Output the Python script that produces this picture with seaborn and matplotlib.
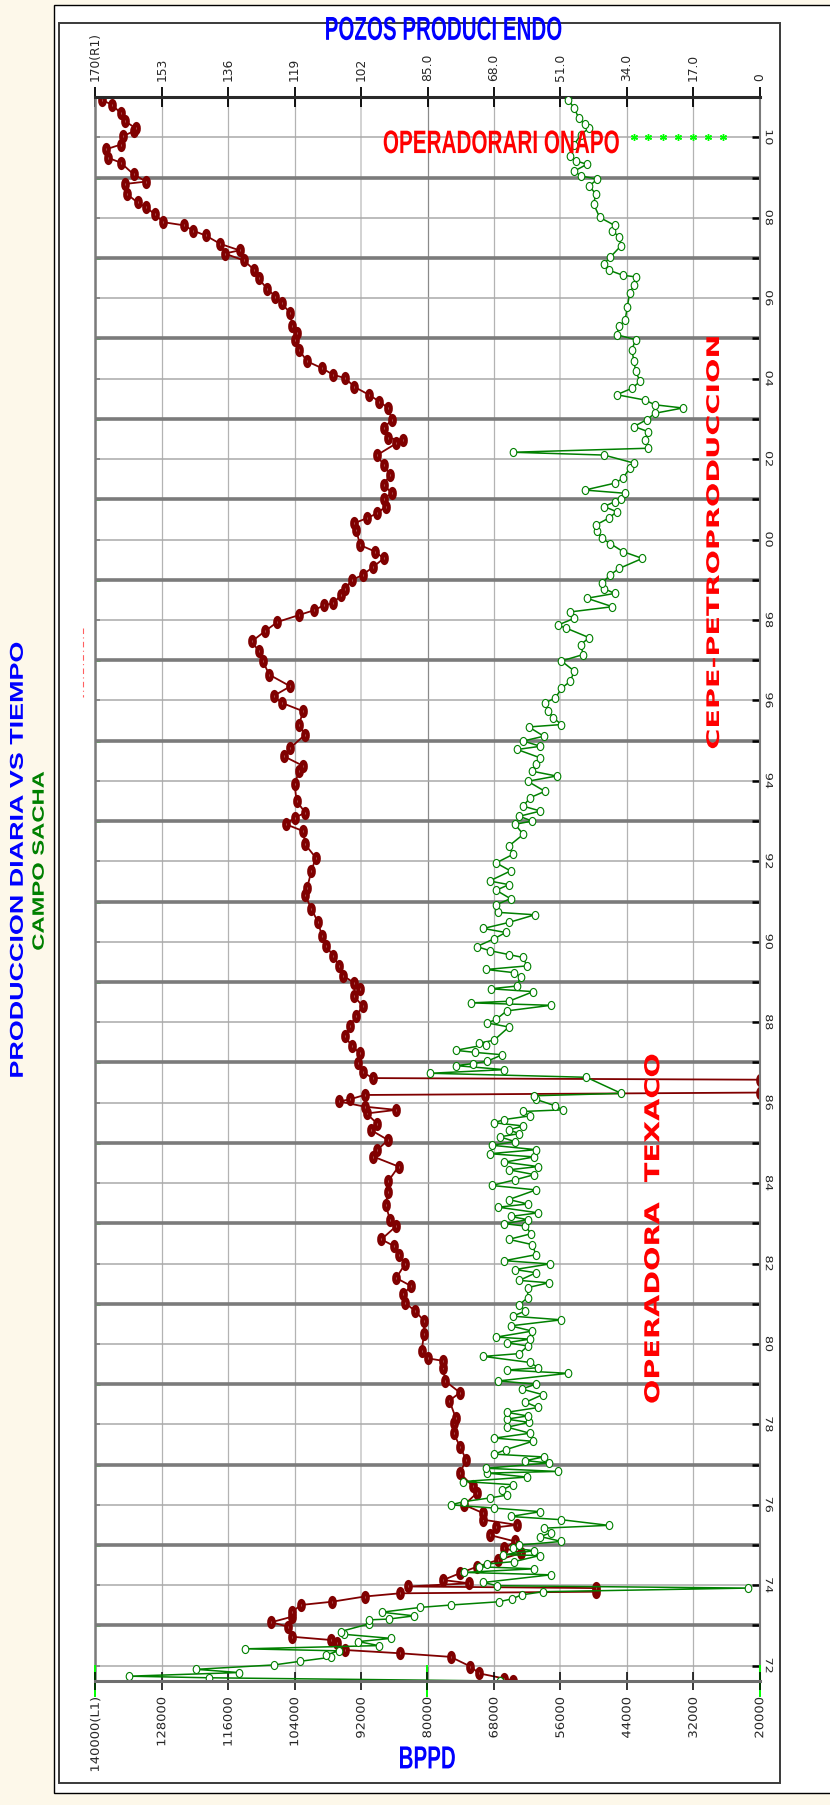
import matplotlib
matplotlib.use("Agg")
import matplotlib.pyplot as plt
import numpy as np
import pandas as pd
import seaborn as sns
from matplotlib.lines import Line2D
from matplotlib.patches import Rectangle
from matplotlib.path import Path
from matplotlib.patheffects import AbstractPathEffect
from matplotlib.transforms import Affine2D

# ---------------------------------------------------------------- data
# Daily oil production, Sacha field (barrels per day)
prod_year = [
    1971.62, 1971.70, 1971.74, 1971.83, 1971.91, 1972.02, 1972.11, 1972.21, 1972.27, 1972.37,
    1972.42, 1972.50, 1972.60, 1972.68, 1972.78, 1972.85, 1973.04, 1973.14, 1973.16, 1973.24,
    1973.33, 1973.45, 1973.51, 1973.59, 1973.66, 1973.76, 1973.84, 1973.93, 1973.99, 1974.07,
    1974.26, 1974.32, 1974.41, 1974.46, 1974.53, 1974.59, 1974.74, 1974.76, 1974.86, 1974.92,
    1975.00, 1975.09, 1975.21, 1975.31, 1975.42, 1975.49, 1975.63, 1975.71, 1975.83, 1975.92,
    1976.00, 1976.08, 1976.17, 1976.24, 1976.37, 1976.50, 1976.58, 1976.69, 1976.79, 1976.83,
    1976.91, 1977.04, 1977.10, 1977.19, 1977.26, 1977.37, 1977.58, 1977.66, 1977.78, 1977.93,
    1978.05, 1978.13, 1978.21, 1978.30, 1978.42, 1978.55, 1978.74, 1978.88, 1979.00, 1979.08,
    1979.27, 1979.35, 1979.41, 1979.54, 1979.69, 1979.76, 1979.95, 1980.03, 1980.12, 1980.17,
    1980.32, 1980.45, 1980.60, 1980.69, 1980.82, 1980.98, 1981.15, 1981.40, 1981.52, 1981.58,
    1981.77, 1981.85, 1981.99, 1982.07, 1982.22, 1982.47, 1982.60, 1982.74, 1982.93, 1982.99,
    1983.09, 1983.17, 1983.26, 1983.40, 1983.48, 1983.59, 1983.83, 1983.94, 1984.08, 1984.21,
    1984.33, 1984.41, 1984.52, 1984.65, 1984.73, 1984.83, 1984.94, 1985.03, 1985.15, 1985.23,
    1985.32, 1985.42, 1985.50, 1985.58, 1985.67, 1985.78, 1985.82, 1985.92, 1986.08, 1986.17,
    1986.23, 1986.63, 1986.73, 1986.82, 1986.92, 1986.97, 1987.03, 1987.19, 1987.25, 1987.30,
    1987.44, 1987.48, 1987.55, 1987.88, 1987.98, 1988.07, 1988.28, 1988.42, 1988.48, 1988.52,
    1988.76, 1988.83, 1988.90, 1989.13, 1989.23, 1989.31, 1989.40, 1989.61, 1989.68, 1989.78,
    1989.88, 1990.07, 1990.23, 1990.33, 1990.48, 1990.67, 1990.73, 1990.92, 1991.07, 1991.28,
    1991.42, 1991.51, 1991.76, 1991.96, 1992.17, 1992.38, 1992.67, 1992.92, 1993.00, 1993.12,
    1993.25, 1993.37, 1993.58, 1993.74, 1993.99, 1994.12, 1994.24, 1994.41, 1994.57, 1994.78,
    1994.86, 1994.99, 1995.11, 1995.34, 1995.40, 1995.57, 1995.73, 1995.94, 1996.06, 1996.30,
    1996.48, 1996.73, 1996.98, 1997.14, 1997.39, 1997.56, 1997.80, 1997.87, 1998.04, 1998.20,
    1998.33, 1998.54, 1998.66, 1998.78, 1998.91, 1999.12, 1999.28, 1999.53, 1999.70, 1999.90,
    2000.03, 2000.20, 2000.36, 2000.53, 2000.69, 2000.82, 2000.94, 2001.02, 2001.15, 2001.23,
    2001.40, 2001.52, 2001.77, 2001.90, 2002.10, 2002.17, 2002.27, 2002.48, 2002.68, 2002.81,
    2002.98, 2003.14, 2003.27, 2003.35, 2003.47, 2003.60, 2003.76, 2003.93, 2004.18, 2004.43,
    2004.72, 2004.97, 2005.09, 2005.30, 2005.46, 2005.79, 2006.12, 2006.33, 2006.53, 2006.57,
    2006.70, 2006.86, 2007.02, 2007.31, 2007.52, 2007.68, 2007.81, 2008.01, 2008.34, 2008.59,
    2008.79, 2008.96, 2009.04, 2009.16, 2009.33, 2009.41, 2009.53, 2009.82, 2010.07, 2010.23,
    2010.32, 2010.48, 2010.73, 2010.93,
]
prod_bppd = [
    66900, 119500, 133900, 114000, 121800, 107700, 103000, 97500, 98300, 96000,
    113000, 88800, 92500, 86600, 95000, 95700, 90600, 90600, 87000, 82400,
    88300, 81300, 75700, 67100, 64800, 63000, 59200, 22200, 67400, 69900,
    57700, 73400, 60700, 70700, 69200, 64300, 59700, 66300, 60700, 64600,
    63400, 55800, 59600, 57700, 59000, 47300, 55800, 65000, 59600, 68000,
    75800, 73400, 68800, 65700, 66500, 64600, 73500, 62000, 69200, 56500,
    69500, 58100, 62300, 59000, 67900, 65900, 61000, 67900, 61500, 65600,
    61700, 65700, 61900, 65700, 60000, 62300, 59200, 63000, 60400, 67200,
    54600, 65700, 60000, 61500, 69900, 63400, 61900, 65700, 61500, 67600,
    61100, 65000, 55800, 64600, 62300, 63400, 61900, 61900, 58100, 63400,
    60400, 64200, 57900, 66100, 60400, 61100, 65300, 61300, 62300, 66100,
    61900, 65000, 60000, 67200, 61900, 65300, 60400, 68400, 64200, 60700,
    65300, 60000, 66100, 60700, 68800, 60400, 68400, 64200, 66900, 63400,
    65300, 62700, 68000, 66100, 61500, 62800, 55600, 56900, 60400, 60700,
    45000, 51300, 79500, 66100, 74900, 71800, 69200, 66500, 71500, 74900,
    69500, 70700, 68000, 65300, 69200, 67600, 65700, 57700, 72200, 65300,
    60900, 68600, 63800, 63200, 64300, 69400, 62000, 62800, 65300, 68800,
    71100, 68000, 65900, 69900, 65300, 60600, 67200, 67600, 65000, 67600,
    65300, 68800, 65000, 67600, 64600, 65300, 62700, 64200, 61100, 63400,
    59600, 62700, 61500, 58800, 61900, 56700, 61100, 60400, 59600, 63800,
    59600, 62700, 59000, 61700, 55800, 57300, 58200, 58800, 56900, 55800,
    54200, 53500, 55800, 51900, 52300, 50800, 55000, 56500, 53500, 54200,
    46600, 51200, 46200, 48100, 48500, 47000, 45400, 41200, 44700, 47000,
    48500, 49300, 49600, 47300, 45800, 48100, 46200, 45000, 44300, 51600,
    46200, 44700, 43500, 42700, 48100, 64600, 40100, 40800, 40100, 42700,
    40400, 38900, 33900, 38900, 40800, 45800, 43100, 41600, 42400, 42700,
    43100, 42400, 45800, 45400, 44300, 43900, 43500, 42700, 42400, 44700,
    47300, 48100, 47000, 45000, 45400, 46600, 46200, 48900, 50000, 49600,
    50800, 49300, 52300, 53500, 51200, 53100, 54200, 53500, 52300, 50800,
    51600, 52700, 53500, 54600,
]

# Producing wells
well_year = [
    1971.63, 1971.68, 1971.81, 1971.98, 1972.22, 1972.31, 1972.39, 1972.56, 1972.64, 1972.72,
    1972.97, 1973.08, 1973.22, 1973.34, 1973.51, 1973.59, 1973.72, 1973.80, 1973.84, 1973.93,
    1973.97, 1974.05, 1974.13, 1974.30, 1974.46, 1974.63, 1974.80, 1974.92, 1975.09, 1975.25,
    1975.44, 1975.50, 1975.63, 1975.79, 1976.00, 1976.29, 1976.46, 1976.79, 1977.12, 1977.45,
    1977.78, 1978.03, 1978.17, 1978.59, 1978.79, 1979.08, 1979.41, 1979.58, 1979.64, 1979.83,
    1980.24, 1980.57, 1980.82, 1981.02, 1981.23, 1981.44, 1981.64, 1981.98, 1982.22, 1982.43,
    1982.60, 1982.93, 1983.09, 1983.46, 1983.79, 1984.04, 1984.41, 1984.66, 1984.82, 1985.07,
    1985.32, 1985.48, 1985.73, 1985.82, 1985.90, 1986.03, 1986.08, 1986.19, 1986.25, 1986.57,
    1986.61, 1986.75, 1986.98, 1987.23, 1987.40, 1987.65, 1987.90, 1988.15, 1988.40, 1988.65,
    1988.82, 1988.98, 1989.15, 1989.40, 1989.65, 1989.90, 1990.15, 1990.48, 1990.82, 1991.15,
    1991.34, 1991.76, 1992.09, 1992.42, 1992.75, 1992.92, 1993.08, 1993.21, 1993.50, 1993.91,
    1994.24, 1994.37, 1994.61, 1994.82, 1995.15, 1995.40, 1995.73, 1995.94, 1996.11, 1996.35,
    1996.64, 1996.97, 1997.22, 1997.47, 1997.72, 1997.95, 1998.12, 1998.24, 1998.37, 1998.41,
    1998.62, 1998.78, 1998.99, 1999.12, 1999.32, 1999.53, 1999.70, 1999.86, 2000.24, 2000.40,
    2000.53, 2000.65, 2000.82, 2001.02, 2001.15, 2001.36, 2001.61, 2001.85, 2002.10, 2002.39,
    2002.48, 2002.52, 2002.77, 2002.98, 2003.27, 2003.43, 2003.60, 2003.80, 2004.01, 2004.10,
    2004.26, 2004.43, 2004.72, 2004.97, 2005.13, 2005.30, 2005.63, 2005.87, 2006.04, 2006.24,
    2006.49, 2006.70, 2006.94, 2007.11, 2007.19, 2007.35, 2007.56, 2007.68, 2007.81, 2007.89,
    2008.09, 2008.26, 2008.38, 2008.59, 2008.84, 2008.90, 2009.08, 2009.37, 2009.49, 2009.70,
    2009.82, 2010.03, 2010.15, 2010.23, 2010.40, 2010.60, 2010.81, 2010.93,
]
well_count = [
    63.1, 65.3, 71.8, 74.0, 79.1, 92.1, 106.0, 108.2, 109.8, 119.6,
    120.6, 125.0, 119.6, 119.6, 117.4, 109.5, 101.1, 92.1, 42.0, 42.0,
    89.9, 74.3, 81.0, 76.7, 72.4, 66.9, 61.0, 65.3, 62.6, 69.1,
    67.5, 62.1, 70.7, 70.7, 75.6, 72.4, 73.4, 76.7, 75.1, 76.7,
    78.3, 78.3, 77.8, 79.4, 76.7, 80.5, 81.0, 81.0, 84.8, 86.5,
    85.9, 85.9, 88.1, 90.8, 91.3, 89.2, 93.0, 90.8, 92.4, 93.5,
    96.8, 93.0, 94.6, 95.7, 95.1, 95.1, 92.4, 98.9, 97.9, 95.1,
    99.5, 97.9, 100.6, 93.0, 101.1, 107.6, 104.9, 101.1, 0.0, 0.0,
    98.9, 101.6, 102.7, 102.2, 104.4, 106.0, 104.9, 103.3, 101.6, 103.8,
    102.2, 103.8, 106.5, 107.6, 109.2, 110.9, 112.0, 113.0, 114.7, 116.3,
    115.8, 114.7, 113.6, 116.3, 116.8, 121.2, 119.0, 116.3, 118.5, 119.0,
    117.9, 116.8, 121.7, 120.1, 116.3, 117.9, 116.8, 122.3, 124.4, 120.1,
    125.5, 127.1, 128.2, 129.9, 126.6, 123.4, 117.9, 114.1, 111.4, 109.2,
    107.1, 106.0, 104.4, 101.6, 98.9, 96.2, 98.4, 102.2, 103.3, 103.8,
    100.6, 97.9, 95.7, 96.2, 94.1, 96.2, 94.6, 96.2, 97.9, 93.0,
    91.3, 95.1, 96.2, 94.1, 95.1, 97.3, 100.0, 103.8, 106.0, 109.2,
    112.0, 115.8, 117.9, 119.0, 118.5, 119.6, 120.1, 122.3, 123.9, 126.1,
    128.2, 129.3, 132.0, 136.9, 133.1, 138.0, 141.8, 145.0, 147.2, 152.6,
    154.8, 157.0, 159.2, 161.9, 162.4, 157.0, 160.2, 163.5, 166.7, 167.3,
    163.5, 162.9, 160.2, 159.7, 162.4, 163.5, 165.7, 168.4,
]

# Row of star marks next to the Rio Napo label
star_bppd = [42700, 40100, 37400, 34700, 32000, 29300, 26700]
star_year = 2010.0

# Axis scales and labels
bppd_ticks = [140000, 128000, 116000, 104000, 92000, 80000, 68000, 56000, 44000, 32000, 20000]
bppd_labels = ["140000(L1)", "128000", "116000", "104000", "92000", "80000",
               "68000", "56000", "44000", "32000", "20000"]
bppd_marks = [140000, 80000, 20000]
well_ticks = [170, 153, 136, 119, 102, 85, 68, 51, 34, 17, 0]
well_labels = ["170(R1)", "153", "136", "119", "102", "85.0", "68.0", "51.0", "34.0", "17.0", "0"]
year_major = list(range(1972, 2011, 2))
year_minor = list(range(1973, 2010, 2))
year_labels = [f"{y % 100:02d}" for y in year_major]

assert len(prod_year) == len(prod_bppd)
assert len(well_year) == len(well_count)


# ---------------------------------------------------------------- helpers
class Stretch(AbstractPathEffect):
    """Scale text glyphs vertically (screen direction) about a chosen edge."""

    def __init__(self, factor=1.0, length=None, anchor="mid"):
        super().__init__()
        self.factor = factor
        self.length = length
        self.anchor = anchor

    def draw_path(self, renderer, gc, tpath, affine, rgbFace=None):
        box = tpath.get_extents(affine)
        k = self.factor
        if self.length is not None and box.height > 0:
            k = self.length / box.height
        if self.anchor == "low":
            y0 = box.y0
        elif self.anchor == "high":
            y0 = box.y1
        else:
            y0 = 0.5 * (box.y0 + box.y1)
        extra = Affine2D().translate(0, -y0).scale(1, k).translate(0, y0)
        renderer.draw_path(gc, tpath, affine + extra, rgbFace)


def ellipse(ratio):
    c = Path.unit_circle()
    return Path(c.vertices * np.array([ratio, 1.0]), c.codes)


# ---------------------------------------------------------------- figure
sns.set_style("white")
plt.rcParams["font.family"] = ["DejaVu Sans"]

W, H = 830, 1805
fig = plt.figure(figsize=(W / 100, H / 100), dpi=100, facecolor="#fdf8ea")


def fx(px):
    return px / W


def fy(py):
    return 1.0 - py / H


# page frames
fig.add_artist(Rectangle((fx(54), fy(1793)), fx(W), (1793 - 5) / H,
                         transform=fig.transFigure, facecolor="white",
                         edgecolor="black", lw=1.0, zorder=-2))
fig.add_artist(Rectangle((fx(58.5), fy(1783)), (780 - 58.5) / W, (1783 - 22.7) / H,
                         transform=fig.transFigure, facecolor="white",
                         edgecolor="#3a3a3a", lw=1.4, zorder=-1))
fig.add_artist(Line2D([fx(83), fx(83)], [fy(628), fy(697)], transform=fig.transFigure,
                      color="#ff6060", lw=0.8, linestyle=(0, (5, 3, 1, 3))))

L, R, T, B = 95.3, 759.7, 97.5, 1681.0
ax_w = fig.add_axes([fx(L), fy(B), (R - L) / W, (B - T) / H])
ax_w.set_facecolor("white")
ax_b = ax_w.twiny()

wells_df = pd.DataFrame({"year": well_year, "wells": well_count})
prod_df = pd.DataFrame({"year": prod_year, "bppd": prod_bppd})

sns.lineplot(data=wells_df, x="wells", y="year", ax=ax_w, sort=False, estimator=None,
             color="#800000", linewidth=1.3, marker=ellipse(0.5), markersize=6.5,
             markeredgewidth=3.0, markeredgecolor="#800000", markerfacecolor="white")
sns.lineplot(data=prod_df, x="bppd", y="year", ax=ax_b, sort=False, estimator=None,
             color="#008000", linewidth=1.1, marker=ellipse(0.82), markersize=5.8,
             markeredgewidth=0.8, markeredgecolor="#008000", markerfacecolor="white")
ax_b.plot(star_bppd, [star_year] * len(star_bppd), ls="none", marker=(6, 2, 0),
          ms=5, mew=1.0, mec="#00ff00", color="#00ff00")

for a in (ax_w, ax_b):
    a.set_xlabel("")
    a.set_ylabel("")

ax_w.set_xlim(170, 0)
ax_b.set_xlim(140000, 20000)
ax_w.set_ylim(1971.62, 2010.99)

# top axis: producing wells
ax_w.xaxis.tick_top()
ax_w.xaxis.set_label_position("top")
ax_w.set_xticks(well_ticks, labels=well_labels)
ax_w.tick_params(axis="x", which="major", top=True, bottom=False, labeltop=True,
                 labelbottom=False, direction="inout", length=13.7, width=1.3,
                 color="black", labelsize=8.8, labelrotation=90, pad=5.0)

# bottom axis: BPPD
ax_b.xaxis.tick_bottom()
ax_b.xaxis.set_label_position("bottom")
ax_b.set_xticks(bppd_ticks, labels=bppd_labels)
ax_b.tick_params(axis="x", which="major", top=False, bottom=True, labeltop=False,
                 labelbottom=True, direction="inout", length=12.5, width=1.1,
                 color="black", labelsize=8.4, labelrotation=90, pad=5.5)

# time axis (right)
ax_w.set_yticks(year_major, labels=year_labels)
ax_w.set_yticks(year_minor, minor=True)
ax_w.tick_params(axis="y", which="both", left=False, right=True, labelleft=False,
                 labelright=True, direction="in", length=6, width=1.8, color="black")
ax_w.tick_params(axis="y", which="major", labelsize=7, labelrotation=-90, pad=3)

# small marks on the left edge
sec_l = ax_w.secondary_yaxis("left")
sec_l.set_yticks(year_major)
sec_l.set_yticks(year_minor, minor=True)
sec_l.tick_params(which="both", direction="in", length=3.6, labelleft=False)
sec_l.tick_params(which="major", color="black", width=1.2)
sec_l.tick_params(which="minor", color="#00ff00", width=1.8)
for sp in sec_l.spines.values():
    sp.set_visible(False)

sec_b = ax_b.secondary_xaxis("bottom")
sec_b.set_xticks(bppd_marks)
sec_b.tick_params(direction="inout", length=23, width=1.4, color="#00ff00",
                  labelbottom=False)
for sp in sec_b.spines.values():
    sp.set_visible(False)

# grid
ax_w.grid(True, axis="y", which="major", color="#a9a9a9", linewidth=1.1)
ax_w.grid(True, axis="y", which="minor", color="#7b7b7b", linewidth=2.6)
ax_w.grid(True, axis="x", which="major", color="#b3b3b3", linewidth=0.9)
ax_b.grid(False)
xgl = ax_w.xaxis.get_gridlines()
xgl[5].set_color("#8a8a8a")
for i in (4, 7):
    xgl[i].set_color("#d2d2d2")
    xgl[i].set_linewidth(1.4)

# spines
ax_w.spines["top"].set_color("#2a2a2a")
ax_w.spines["top"].set_linewidth(2.2)
ax_w.spines["bottom"].set_visible(False)
ax_w.spines["left"].set_color("#7a7a7a")
ax_w.spines["left"].set_linewidth(1.8)
ax_w.spines["right"].set_color("#7a7a7a")
ax_w.spines["right"].set_linewidth(1.5)
for side in ("top", "left", "right"):
    ax_b.spines[side].set_visible(False)
ax_b.spines["bottom"].set_color("#6e6e6e")
ax_b.spines["bottom"].set_linewidth(2.2)

for lab in ax_w.get_yticklabels():
    lab.set_va("center")
    lab.set_path_effects([Stretch(1.3)])
for lab in ax_b.get_xticklabels():
    lab.set_path_effects([Stretch(1.12, anchor="high")])

# ---------------------------------------------------------------- texts
fig.text(fx(18.3), fy(860), "PRODUCCION DIARIA VS TIEMPO", rotation=90,
         ha="center", va="center", color="#0000ff", fontsize=13.4,
         fontfamily="Liberation Sans", fontweight="bold",
         path_effects=[Stretch(length=434)])
fig.text(fx(39.2), fy(861), "CAMPO SACHA", rotation=90, ha="center", va="center",
         color="#008000", fontsize=11.8, fontfamily="Liberation Sans",
         fontweight="bold", path_effects=[Stretch(length=178)])
fig.text(fx(443), fy(30), "POZOS PRODUCI ENDO", ha="center", va="center",
         color="#0000ff", fontsize=14.8, fontfamily="Liberation Sans",
         fontweight="bold", path_effects=[Stretch(length=23.5)])
fig.text(fx(427), fy(1759), "BPPD", ha="center", va="center", color="#0000ff",
         fontsize=14.8, fontfamily="Liberation Sans", fontweight="bold",
         path_effects=[Stretch(length=22)])
fig.text(fx(501), fy(143.5), "OPERADORARI ONAPO", ha="center", va="center",
         color="#ff0000", fontsize=14.9, fontfamily="Liberation Sans",
         fontweight="bold", path_effects=[Stretch(length=23)], zorder=5)
fig.text(fx(714), fy(542), "CEPE-PETROPRODUCCION", rotation=90, ha="center",
         va="center", color="#ff0000", fontsize=12.5, fontfamily="DejaVu Sans",
         fontweight="bold", path_effects=[Stretch(length=411)], zorder=5)
fig.text(fx(653.7), fy(1229), "OPERADORA  TEXACO", rotation=90, ha="center",
         va="center", color="#ff0000", fontsize=14.7, fontfamily="DejaVu Sans",
         fontweight="bold", path_effects=[Stretch(length=348)], zorder=5)

fig.savefig("out.png", dpi=100, facecolor=fig.get_facecolor())
